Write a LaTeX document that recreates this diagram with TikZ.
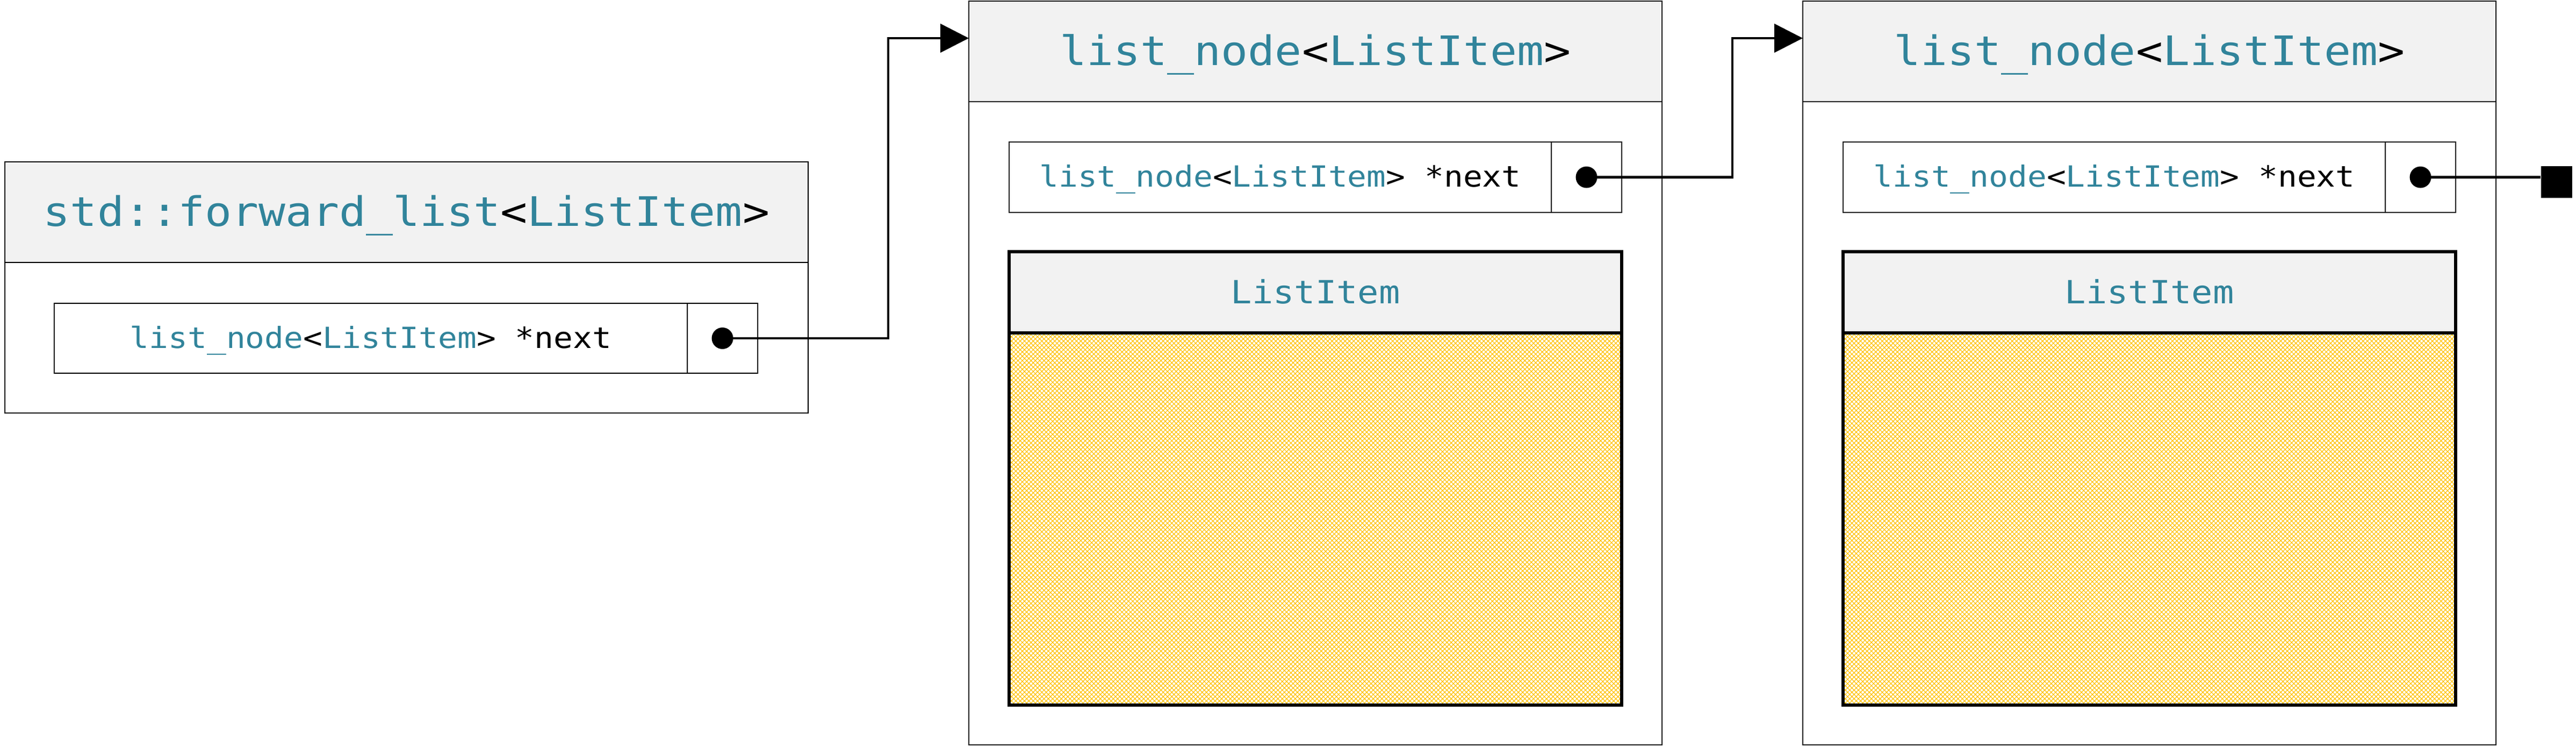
\documentclass[tikz,border=0pt]{standalone}
\usepackage{fontspec}
\newfontfamily\codefont{DejaVu Sans Mono}[FakeStretch=1.1]
\usetikzlibrary{arrows.meta,patterns.meta}
\definecolor{codeteal}{HTML}{31849B}
\definecolor{hdrgray}{HTML}{F2F2F2}
\definecolor{hatchyellow}{HTML}{FFC000}
\newcommand{\tl}[1]{\textcolor{codeteal}{#1}}
\begin{document}
\begin{tikzpicture}[x=1cm,y=-1cm,
  boxbase/.style={rectangle, inner sep=0pt, outer sep=0pt, anchor=north west},
  outerbox/.style={boxbase, draw=black, line width=0.6pt, fill=white},
  hdrbox/.style={boxbase, draw=black, line width=0.6pt, fill=hdrgray},
  cellbox/.style={boxbase, draw=black, line width=0.6pt, fill=white},
  itemhdr/.style={boxbase, draw=black, line width=1.7pt, fill=hdrgray},
  itembody/.style={boxbase, draw=black, line width=1.7pt,
    pattern={Hatch[angle=45,distance=0.057cm,line width=0.012cm]}, pattern color=hatchyellow},
  hdrtext/.style={anchor=base, inner sep=0pt, font=\codefont\fontsize{21.5}{24}\selectfont},
  fieldtext/.style={anchor=base, inner sep=0pt, font=\codefont\fontsize{15.4}{18}\selectfont},
  itemtext/.style={anchor=base, inner sep=0pt, font=\codefont\fontsize{16.9}{20}\selectfont},
  dotn/.style={circle, fill=black, inner sep=0pt, minimum size=0.4cm},
  endsq/.style={rectangle, fill=black, inner sep=0pt, minimum width=0.58cm, minimum height=0.59cm},
  conn/.style={line width=1.33pt, -{Triangle[length=0.53cm,width=0.53cm]}},
  connplain/.style={line width=1.33pt}
]
\useasboundingbox (0,0) rectangle (47.94,13.88);

% ---------- std::forward_list box ----------
\node[outerbox, minimum width=14.95cm, minimum height=4.67cm] (L) at (0.09,3.01) {};
\node[hdrbox, minimum width=14.95cm, minimum height=1.87cm] (Lh) at (L.north west) {};
\node[hdrtext] (Lt) at ([yshift=-0.261cm]Lh.center) {\tl{std::forward\_list}<\tl{ListItem}>};
\node[cellbox, minimum width=11.78cm, minimum height=1.30cm] (Lf) at (1.01,5.64) {};
\node[cellbox, minimum width=1.31cm, minimum height=1.30cm] (Lp) at (Lf.north east) {};
\node[fieldtext] (Lft) at ([yshift=-0.183cm]Lf.center) {\tl{list\_node}<\tl{ListItem}> *next};

% ---------- first list_node box ----------
\node[outerbox, minimum width=12.90cm, minimum height=13.83cm] (M) at (18.03,0.02) {};
\node[hdrbox, minimum width=12.90cm, minimum height=1.87cm] (Mh) at (M.north west) {};
\node[hdrtext] (Mt) at ([yshift=-0.261cm]Mh.center) {\tl{list\_node}<\tl{ListItem}>};
\node[cellbox, minimum width=10.09cm, minimum height=1.31cm] (Mf) at (18.78,2.64) {};
\node[cellbox, minimum width=1.31cm, minimum height=1.31cm] (Mp) at (Mf.north east) {};
\node[fieldtext] (Mft) at ([yshift=-0.183cm]Mf.center) {\tl{list\_node}<\tl{ListItem}> *next};
\node[itembody, minimum width=11.40cm, minimum height=6.92cm] (Mb) at (18.78,6.19) {};
\node[itemhdr, minimum width=11.40cm, minimum height=1.51cm] (Mi) at (18.78,4.68) {};
\node[itemtext] (Mit) at ([yshift=-0.21cm]Mi.center) {\tl{ListItem}};

% ---------- second list_node box ----------
\node[outerbox, minimum width=12.90cm, minimum height=13.83cm] (R) at (33.55,0.02) {};
\node[hdrbox, minimum width=12.90cm, minimum height=1.87cm] (Rh) at (R.north west) {};
\node[hdrtext] (Rt) at ([yshift=-0.261cm]Rh.center) {\tl{list\_node}<\tl{ListItem}>};
\node[cellbox, minimum width=10.09cm, minimum height=1.31cm] (Rf) at (34.30,2.64) {};
\node[cellbox, minimum width=1.31cm, minimum height=1.31cm] (Rp) at (Rf.north east) {};
\node[fieldtext] (Rft) at ([yshift=-0.183cm]Rf.center) {\tl{list\_node}<\tl{ListItem}> *next};
\node[itembody, minimum width=11.40cm, minimum height=6.92cm] (Rb) at (34.30,6.19) {};
\node[itemhdr, minimum width=11.40cm, minimum height=1.51cm] (Ri) at (34.30,4.68) {};
\node[itemtext] (Rit) at ([yshift=-0.21cm]Ri.center) {\tl{ListItem}};

% ---------- pointer dots and terminator ----------
\node[dotn] (Ld) at (Lp.center) {};
\node[dotn] (Md) at (Mp.center) {};
\node[dotn] (Rd) at (Rp.center) {};
\node[endsq] (E) at (47.58,3.385) {};

% ---------- connectors ----------
\coordinate (k1) at (16.53,0.71);
\coordinate (k2) at (32.24,0.71);
\draw[conn] (Ld.center) -| (k1) -- (k1 -| M.west);
\draw[conn] (Md.center) -| (k2) -- (k2 -| R.west);
\draw[connplain] (Rd.center) -- (Rd.center -| E.west);
\end{tikzpicture}
\end{document}
